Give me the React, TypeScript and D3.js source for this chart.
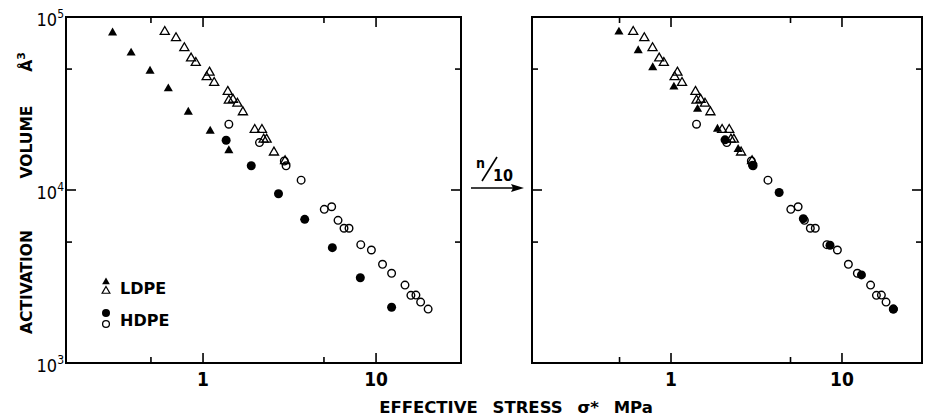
import React from "react";
import * as d3 from "d3";

// stress (MPa), activation volume (Å^3)
const ldpeFilled = [[0.3, 8.1e4], [0.384, 6.2e4], [0.494, 4.87e4], [0.63, 3.85e4], [0.822, 2.82e4], [1.1, 2.19e4], [1.41, 1.69e4]];
const ldpeOpen = [
  [0.601, 8.22e4], [0.698, 7.56e4], [0.78, 6.62e4], [0.853, 5.77e4], [0.908, 5.44e4], [1.09, 4.78e4], [1.05, 4.5e4],
  [1.16, 4.17e4], [1.39, 3.7e4], [1.41, 3.29e4], [1.49, 3.33e4], [1.58, 3.16e4], [1.7, 2.82e4], [1.99, 2.23e4],
  [2.19, 2.23e4], [2.24, 1.96e4], [2.33, 1.96e4], [2.57, 1.65e4], [2.98, 1.47e4],
];
const hdpeFilled = [[1.36, 1.94e4], [1.9, 1.38e4], [2.73, 9.52e3], [3.87, 6.77e3], [5.59, 4.64e3], [8.11, 3.11e3], [12.3, 2.1e3]];
const hdpeOpen = [
  [1.41, 2.4e4], [2.12, 1.88e4], [2.95, 1.47e4], [3.02, 1.38e4], [3.69, 1.14e4], [5.02, 7.73e3], [5.54, 8.0e3],
  [6.03, 6.68e3], [6.53, 6.01e3], [6.98, 6.01e3], [8.16, 4.83e3], [9.4, 4.5e3], [10.9, 3.72e3], [12.3, 3.3e3],
  [14.7, 2.82e3], [15.9, 2.46e3], [17.0, 2.47e3], [18.1, 2.25e3], [20.0, 2.05e3],
];
// filled points after the n/10 shift (right panel)
const ldpeFilledShifted = [[0.496, 8.2e4], [0.643, 6.4e4], [0.782, 5.1e4], [1.04, 3.94e4], [1.43, 2.93e4], [1.87, 2.25e4], [2.47, 1.72e4]];
const hdpeFilledShifted = [[2.07, 1.95e4], [3.0, 1.39e4], [4.29, 9.67e3], [5.94, 6.83e3], [8.51, 4.79e3], [13.0, 3.23e3], [19.95, 2.05e3]];

const xMajorTicks = [1, 10];
const xMinorTicks = [0.5, 5];
const yMajorTicks = [1e4];
const yMinorTicks = [5e3, 5e4];
const xTickLabels = ["1", "10"];
const yTickValues = [1e3, 1e4, 1e5];
const yTickExponents = ["3", "4", "5"];

const top = 17;
const bottom = 363;
const narrow = "'Liberation Sans Narrow', 'DejaVu Sans Condensed', sans-serif";
const bold = "'DejaVu Sans', sans-serif";

const yScale = d3.scaleLog().domain([1e3, 1e5]).range([bottom, top]);
const tri = d3.symbol().type(d3.symbolTriangle).size(36)();
const triSmall = d3.symbol().type(d3.symbolTriangle).size(26)();

function Panel({ left, right, dom, ldpeF, hdpeF, showY }) {
  const x = d3.scaleLog().domain(dom).range([left, right]);
  const tickLen = (major) => (major ? 10 : 6);
  return (
    <g>
      <rect x={left} y={top} width={right - left} height={bottom - top} fill="none" stroke="#000" strokeWidth={2} />
      {[...xMajorTicks.map((v) => [v, true]), ...xMinorTicks.map((v) => [v, false])].map(([v, m], i) => (
        <g key={"xt" + i} stroke="#000" strokeWidth={1.6}>
          <line x1={x(v)} x2={x(v)} y1={bottom} y2={bottom - tickLen(m)} />
          <line x1={x(v)} x2={x(v)} y1={top} y2={top + tickLen(m)} />
        </g>
      ))}
      {[...yMajorTicks.map((v) => [v, true]), ...yMinorTicks.map((v) => [v, false])].map(([v, m], i) => (
        <g key={"yt" + i} stroke="#000" strokeWidth={1.6}>
          <line x1={left} x2={left + tickLen(m)} y1={yScale(v)} y2={yScale(v)} />
          <line x1={right} x2={right - tickLen(m)} y1={yScale(v)} y2={yScale(v)} />
        </g>
      ))}
      {xMajorTicks.map((v, i) => (
        <text key={"xl" + i} x={x(v)} y={386} textAnchor="middle" fontFamily={narrow} fontWeight="bold" fontSize={19}>
          {xTickLabels[i]}
        </text>
      ))}
      {showY &&
        yTickValues.map((v, i) => (
          <text key={"yl" + i} x={left - 2} y={yScale(v) + 9} textAnchor="end" fontFamily={narrow} fontSize={18}>
            10
            <tspan dy={-8} fontSize={12}>{yTickExponents[i]}</tspan>
          </text>
        ))}
      {ldpeOpen.map((d, i) => (
        <path key={"lo" + i} d={tri} transform={`translate(${x(d[0])},${yScale(d[1])})`} fill="none" stroke="#000" strokeWidth={1.3} />
      ))}
      {hdpeOpen.map((d, i) => (
        <circle key={"ho" + i} cx={x(d[0])} cy={yScale(d[1])} r={3.8} fill="none" stroke="#000" strokeWidth={1.4} />
      ))}
      {ldpeF.map((d, i) => (
        <path key={"lf" + i} d={tri} transform={`translate(${x(d[0])},${yScale(d[1])})`} fill="#000" />
      ))}
      {hdpeF.map((d, i) => (
        <circle key={"hf" + i} cx={x(d[0])} cy={yScale(d[1])} r={4.5} fill="#000" />
      ))}
    </g>
  );
}

export default function App() {
  return (
    <svg width={925} height={420} style={{ position: "absolute", left: 0, top: 0, background: "#fff" }}>
      <Panel left={66} right={461} dom={[10 ** -0.792, 10 ** 1.491]} ldpeF={ldpeFilled} hdpeF={hdpeFilled} showY />
      <Panel left={532} right={922} dom={[10 ** -0.813, 10 ** 1.468]} ldpeF={ldpeFilledShifted} hdpeF={hdpeFilledShifted} showY={false} />

      {/* legend */}
      <path d={triSmall} transform="translate(106,282)" fill="#000" />
      <path d={triSmall} transform="translate(106,291)" fill="none" stroke="#000" strokeWidth={1.2} />
      <text x={120} y={294} fontFamily={bold} fontWeight="bold" fontSize={16}>LDPE</text>
      <circle cx={106} cy={313} r={4} fill="#000" />
      <circle cx={106} cy={324} r={3.4} fill="none" stroke="#000" strokeWidth={1.3} />
      <text x={120} y={326} fontFamily={bold} fontWeight="bold" fontSize={16}>HDPE</text>

      {/* n/10 arrow */}
      <line x1={471} x2={516} y1={188} y2={188} stroke="#000" strokeWidth={1.5} />
      <path d="M524,188 L511,184 L513,188 L511,192 Z" fill="#000" />
      <text x={476} y={168} fontFamily={narrow} fontWeight="bold" fontSize={14}>n</text>
      <line x1={482} x2={497} y1={181} y2={157} stroke="#000" strokeWidth={1.6} />
      <text x={493} y={181} fontFamily={narrow} fontWeight="bold" fontSize={16}>10</text>

      {/* axis titles */}
      <text x={516} y={413} textAnchor="middle" fontFamily={bold} fontWeight="bold" fontSize={16.5} style={{ wordSpacing: "9px" }}>
        EFFECTIVE STRESS σ* MPa
      </text>
      <g fontFamily={bold} fontWeight="bold" fontSize={15.5} textAnchor="middle">
        <text transform="translate(32,282) rotate(-90)">ACTIVATION</text>
        <text transform="translate(32,142) rotate(-90)">VOLUME</text>
        <text transform="translate(32,62) rotate(-90)">
          Å<tspan dy={-7} fontSize={11}>3</tspan>
        </text>
      </g>
    </svg>
  );
}
